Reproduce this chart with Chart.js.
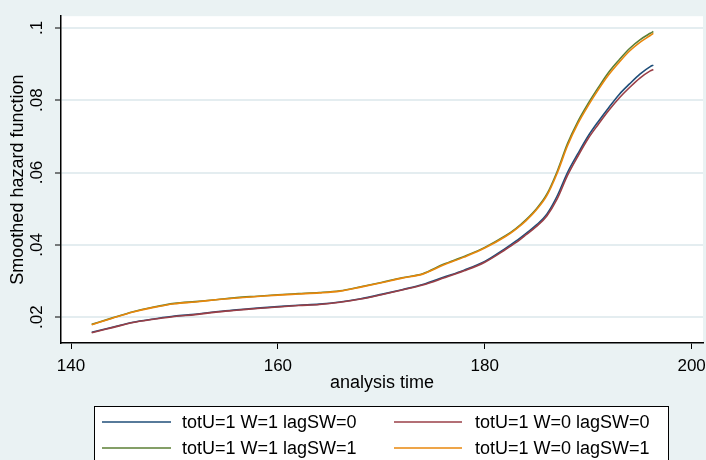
<!DOCTYPE html>
<html>
<head>
<meta charset="utf-8">
<script src="https://cdn.jsdelivr.net/npm/chart.js@4.4.1/dist/chart.umd.min.js"></script>
<style>
  html, body { margin: 0; padding: 0; background: #eaf2f3; overflow: hidden; }
  #wrap { width: 706px; height: 460px; }
</style>
</head>
<body>
<div id="wrap"><canvas id="hazChart" width="706" height="460"></canvas></div>
<script>
// analysis time (shared by all four curves)
const times = [142, 144, 146, 148, 150, 152, 154, 156, 158, 160, 162, 164, 166, 168, 170, 172, 174, 176, 178, 180,
               182, 183, 184, 185, 186, 187, 188, 189, 190, 191, 192, 193, 194, 195, 196, 196.3];

// smoothed hazard
const hazW1lag0 = [0.0158, 0.0172, 0.0186, 0.0195, 0.0203, 0.0208, 0.0215, 0.0220, 0.0225, 0.0229, 0.0233, 0.0236,
                   0.0242, 0.0251, 0.0263, 0.0276, 0.0290, 0.0310, 0.0330, 0.0354, 0.0390, 0.0410, 0.0432, 0.0455,
                   0.0485, 0.0535, 0.0600, 0.0652, 0.0701, 0.0742, 0.0780, 0.0816, 0.0845, 0.0872, 0.0893, 0.0897];
const hazW0lag0 = [0.0157, 0.0171, 0.0185, 0.0194, 0.0202, 0.0207, 0.0214, 0.0219, 0.0224, 0.0228, 0.0232, 0.0235,
                   0.0241, 0.0250, 0.0262, 0.0275, 0.0289, 0.0308, 0.0328, 0.0352, 0.0387, 0.0406, 0.0428, 0.0451,
                   0.0480, 0.0527, 0.0592, 0.0645, 0.0694, 0.0734, 0.0772, 0.0806, 0.0835, 0.0861, 0.0881, 0.0885];
const hazW1lag1 = [0.0180, 0.0198, 0.0215, 0.0228, 0.0238, 0.0243, 0.0248, 0.0254, 0.0258, 0.0262, 0.0265, 0.0268,
                   0.0273, 0.0284, 0.0296, 0.0309, 0.0320, 0.0346, 0.0368, 0.0393, 0.0425, 0.0445, 0.0470, 0.0500,
                   0.0540, 0.0603, 0.0680, 0.0741, 0.0791, 0.0836, 0.0878, 0.0912, 0.0943, 0.0967, 0.0985, 0.0990];
const hazW0lag1 = [0.0179, 0.0197, 0.0214, 0.0227, 0.0237, 0.0242, 0.0248, 0.0253, 0.0257, 0.0261, 0.0264, 0.0267,
                   0.0272, 0.0283, 0.0295, 0.0308, 0.0319, 0.0344, 0.0366, 0.0391, 0.0423, 0.0443, 0.0467, 0.0497,
                   0.0536, 0.0598, 0.0674, 0.0735, 0.0785, 0.0830, 0.0871, 0.0905, 0.0936, 0.0960, 0.0979, 0.0985];

const seriesNames = ['totU=1 W=1 lagSW=0', 'totU=1 W=0 lagSW=0', 'totU=1 W=1 lagSW=1', 'totU=1 W=0 lagSW=1'];
const xTicks = [140, 160, 180, 200];
const xTickLabels = ['140', '160', '180', '200'];
const yTicks = [0.02, 0.04, 0.06, 0.08, 0.1];
const yTickLabels = ['.02', '.04', '.06', '.08', '.1'];

const colors = ['#1f4e79', '#9a3f47', '#5b7f35', '#e8870c'];
const FONT = '"Liberation Sans", Arial, sans-serif';
Chart.defaults.font.family = FONT;
Chart.defaults.color = '#000';

function toPoints(vals) {
    return times.map((t, i) => ({ x: t, y: vals[i] }));
}

const allSeries = [hazW1lag0, hazW0lag0, hazW1lag1, hazW0lag1];
const datasets = allSeries.map((vals, i) => ({
    label: seriesNames[i],
    data: toPoints(vals),
    borderColor: colors[i],
    backgroundColor: colors[i],
    borderWidth: 1.6,
    pointRadius: 0,
    fill: false,
    cubicInterpolationMode: 'monotone',
    order: 4 - i
}));

// background + white plot region
const plotBg = {
    id: 'plotBg',
    beforeDraw(chart) {
        const { ctx, chartArea: a } = chart;
        ctx.save();
        ctx.fillStyle = '#eaf2f3';
        ctx.fillRect(0, 0, chart.width, chart.height);
        ctx.fillStyle = '#ffffff';
        ctx.fillRect(a.left, a.top, a.right - a.left, a.bottom - a.top);
        ctx.restore();
    }
};

// stata-style boxed legend, two columns
const boxLegend = {
    id: 'boxLegend',
    afterDraw(chart) {
        const ctx = chart.ctx;
        const sets = chart.data.datasets;
        ctx.save();
        ctx.fillStyle = '#ffffff';
        ctx.fillRect(94, 406, 574, 70);
        ctx.strokeStyle = '#000';
        ctx.lineWidth = 1;
        ctx.strokeRect(94.5, 406.5, 574, 70);
        ctx.font = '18px ' + FONT;
        ctx.textBaseline = 'middle';
        ctx.textAlign = 'left';
        const colX = [[102, 171, 182], [394, 462, 475]];
        const rowY = [422, 448];
        sets.forEach((ds, i) => {
            const c = colX[i % 2];
            const y = rowY[Math.floor(i / 2)];
            ctx.strokeStyle = ds.borderColor;
            ctx.lineWidth = 1.6;
            ctx.beginPath();
            ctx.moveTo(c[0], y);
            ctx.lineTo(c[1], y);
            ctx.stroke();
            ctx.fillStyle = '#000';
            ctx.fillText(ds.label, c[2], y + 1);
        });
        ctx.restore();
    }
};

let hazChart = new Chart(document.getElementById('hazChart'), {
    type: 'line',
    data: { datasets: datasets },
    options: {
        responsive: false,
        animation: false,
        layout: { padding: { top: 7, right: 3, left: 0, bottom: 0 } },
        plugins: {
            legend: { display: false },
            tooltip: { enabled: false }
        },
        scales: {
            x: {
                type: 'linear',
                min: 139.03,
                max: 201.1,
                afterBuildTicks: s => { s.ticks = xTicks.map(v => ({ value: v })); },
                afterFit: s => { s.height = 117; s.paddingLeft = 0; s.paddingRight = 0; },
                ticks: {
                    font: { size: 17 },
                    color: '#000',
                    padding: 7,
                    maxRotation: 0,
                    callback: v => xTickLabels[xTicks.indexOf(v)]
                },
                grid: { drawOnChartArea: false, tickColor: '#000', tickLength: 6, tickWidth: 1 },
                border: { color: '#000', width: 1.5 },
                title: {
                    display: true,
                    text: 'analysis time',
                    font: { size: 18 },
                    color: '#000',
                    padding: { top: 0, bottom: 66 }
                }
            },
            y: {
                type: 'linear',
                min: 0.01285,
                max: 0.10323,
                afterBuildTicks: s => { s.ticks = yTicks.map(v => ({ value: v })); },
                afterFit: s => { s.width = 61; },
                ticks: {
                    font: { size: 17 },
                    color: '#000',
                    padding: 6,
                    minRotation: 90,
                    maxRotation: 90,
                    crossAlign: 'center',
                    callback: v => yTickLabels[yTicks.indexOf(v)]
                },
                grid: { color: '#e4edf0', lineWidth: 2, tickColor: '#000', tickLength: 6, tickWidth: 1 },
                border: { color: '#000', width: 1.5 },
                title: {
                    display: true,
                    text: 'Smoothed hazard function',
                    font: { size: 18 },
                    color: '#000',
                    padding: { top: 7, bottom: 0 }
                }
            }
        }
    },
    plugins: [plotBg, boxLegend]
});
</script>
</body>
</html>
